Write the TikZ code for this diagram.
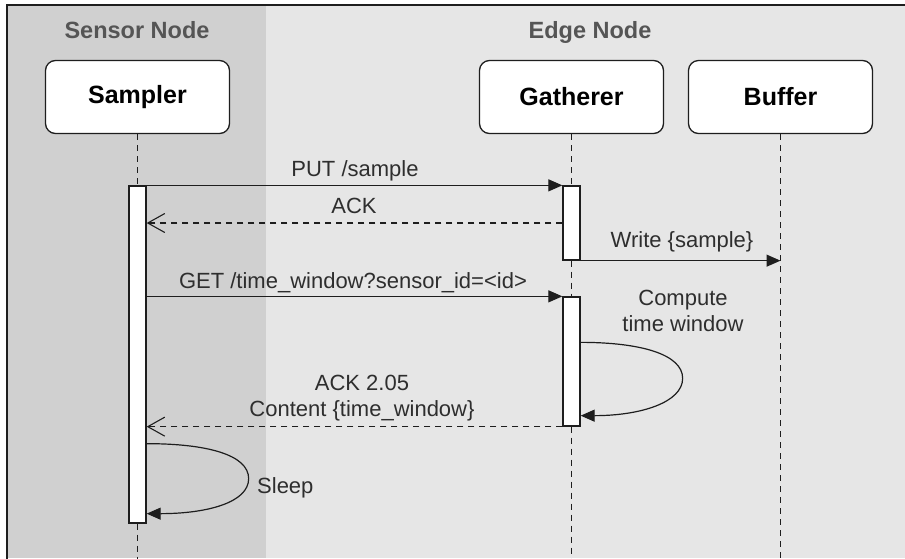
\documentclass[tikz,border=0pt]{standalone}
\usepackage{fontspec}
\setmainfont{Liberation Sans}
\usetikzlibrary{arrows.meta}
\definecolor{sensorbg}{HTML}{D0D0D0}
\definecolor{edgebg}{HTML}{E6E6E6}
\definecolor{titlegray}{HTML}{555555}
\definecolor{msggray}{HTML}{2E2E2E}
\definecolor{linecol}{HTML}{1E1E1E}
\pgfdeclarelayer{lanes}
\pgfdeclarelayer{lines}
\pgfsetlayers{lanes,lines,main}
\begin{document}
\begin{tikzpicture}[x=1pt,y=-1pt,
  participant/.style={draw=linecol, line width=1.3pt, rounded corners=10pt, fill=white,
    minimum width=184pt, minimum height=73pt, inner sep=0pt,
    font=\fontsize{25}{30}\selectfont\bfseries},
  activation/.style={draw=linecol, line width=1.3pt, fill=white, minimum width=17pt, inner sep=0pt},
  lifeline/.style={draw=linecol, line width=1pt, dash pattern=on 6pt off 5pt},
  msg/.style={draw=linecol, line width=1.2pt, -{Triangle[length=14pt,width=12pt]}},
  reply/.style={draw=linecol, line width=1.1pt, dash pattern=on 6.5pt off 4.5pt,
    -{Straight Barb[length=17pt,width=19pt,line width=1.1pt]}},
  lbl/.style={font=\fontsize{22}{26}\selectfont, text=msggray, inner sep=0pt},
  lanetitle/.style={font=\fontsize{23.5}{28}\selectfont\bfseries, text=titlegray, inner sep=0pt, anchor=base}
]
\useasboundingbox (0,0) rectangle (905,558);
% lanes
\begin{pgfonlayer}{lanes}
\fill[sensorbg] (7,4.8) rectangle (266,558);
\fill[edgebg] (266,4.8) rectangle (905,558);
\draw[line width=1.8pt, linecol] (7,560) -- (7,4.8) -- (907,4.8);
\end{pgfonlayer}
\node[lanetitle] (tsensor) at (137,38) {Sensor Node};
\node[lanetitle] (tedge) at (590,38) {Edge Node};

% participants
\node[participant] (sampler) at (137.5,97) {Sampler};
\node[participant] (gatherer) at (571.5,97) {Gatherer};
\node[participant] (buffer) at (780.5,97) {Buffer};

% activations
\node[activation, minimum height=337pt] (actS) at (137.5,354.5) {};
\node[activation, minimum height=74pt] (actG1) at (571.5,223) {};
\node[activation, minimum height=129pt] (actG2) at (571.5,361.5) {};

% lifeline ends
\coordinate (endS) at (137.5,560);
\coordinate (endG) at (571.5,560);
\coordinate (endB) at (780.5,560);

% lifelines
\begin{pgfonlayer}{lines}
\draw[lifeline] (sampler.south) -- (actS.north);
\draw[lifeline] (actS.south) -- (endS);
\draw[lifeline] (gatherer.south) -- (actG1.north);
\draw[lifeline] (actG1.south) -- (actG2.north);
\draw[lifeline] (actG2.south) -- (endG);
\draw[lifeline] (buffer.south) -- (endB);
\end{pgfonlayer}

% messages
\draw[msg] (actS.north east) -- (actG1.north west);
\node[lbl, anchor=base] (lput) at (355,176) {PUT /sample};

\draw[reply] (actG1.west) -- (actS.east |- actG1.west);
\node[lbl, anchor=base] (lack) at (354,213) {ACK};

\coordinate (bufW) at (buffer.south |- actG1.south east);
\draw[msg] (actG1.south east) -- (bufW);
\node[lbl, anchor=base] (lwrite) at (682,247.5) {Write \{sample\}};

\draw[msg] (actS.east |- actG2.north) -- (actG2.north west);
\node[lbl, anchor=base] (lget) at (353,288) {GET /time\_window?sensor\_id=<id>};

\draw[msg] ([yshift=-46pt]actG2.north east) .. controls +(60,0) and +(0,-24) .. ++(102,36)
  .. controls +(0,24) and +(60,0) .. ([yshift=11pt]actG2.south east);
\node[lbl, align=center, anchor=south] (lcompute) at (683,332) {Compute\\time window};

\draw[reply] (actG2.south west) -- (actS.east |- actG2.south);
\node[lbl, align=center, anchor=south] (lcontent) at (362,421.6) {ACK 2.05\\Content \{time\_window\}};

\draw[msg] ([yshift=80pt]actS.south east) .. controls +(60,0) and +(0,-24) .. ++(102,35)
  .. controls +(0,24) and +(60,0) .. ([yshift=10pt]actS.south east);
\node[lbl, anchor=base west] (lsleep) at (257,493) {Sleep};
\end{tikzpicture}
\end{document}
